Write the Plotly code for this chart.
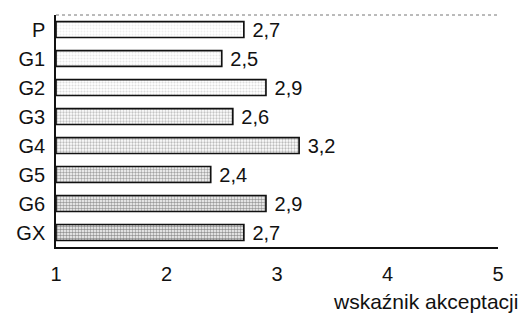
import plotly.graph_objects as go

categories = ["P", "G1", "G2", "G3", "G4", "G5", "G6", "GX"]
values = [2.7, 2.5, 2.9, 2.6, 3.2, 2.4, 2.9, 2.7]
value_labels = ["2,7", "2,5", "2,9", "2,6", "3,2", "2,4", "2,9", "2,7"]
x_ticks = [1, 2, 3, 4, 5]
x_title = "wskaźnik akceptacji"

bg_colors = ["#eeeeee", "#e6e6e6", "#dcdcdc", "#c4c4c4", "#bcbcbc", "#a4a4a4", "#9c9c9c", "#949494"]
fg_colors = ["#8c8c8c", "#7c7c7c", "#6e6e6e", "#585858", "#505050", "#404040", "#383838", "#303030"]
solidities = [0.3, 0.35, 0.4, 0.45, 0.45, 0.5, 0.55, 0.55]

FONT = "Liberation Sans, Arial, sans-serif"

fig = go.Figure()
fig.add_trace(go.Bar(
    y=categories,
    x=[v - 1 for v in values],
    base=1,
    orientation="h",
    text=value_labels,
    texttemplate=" %{text}",
    textposition="outside",
    constraintext="none",
    cliponaxis=False,
    textfont=dict(family=FONT, size=20, color="#111"),
    marker=dict(
        color=bg_colors,
        line=dict(color="#111", width=1.7),
        pattern=dict(shape=".", fgcolor=fg_colors, bgcolor=bg_colors,
                     size=3, solidity=solidities, fillmode="replace"),
    ),
    hoverinfo="skip",
))

fig.update_layout(
    width=526, height=325,
    margin=dict(l=56, r=28, t=15, b=78, autoexpand=False),
    paper_bgcolor="white", plot_bgcolor="white",
    bargap=0.45,
    showlegend=False,
    font=dict(family=FONT, size=20, color="#111"),
    xaxis=dict(
        range=[1, 5], tickvals=x_ticks, ticktext=[str(t) for t in x_ticks],
        showgrid=False, zeroline=False,
        showline=True, linecolor="#111", linewidth=1.5,
        ticks="", ticklabelstandoff=8,
        tickfont=dict(family=FONT, size=20, color="#111"),
    ),
    yaxis=dict(
        autorange="reversed",
        showgrid=False, zeroline=False,
        showline=True, linecolor="#111", linewidth=1.5,
        ticks="", ticklabelstandoff=5,
        tickfont=dict(family=FONT, size=20, color="#111"),
    ),
    shapes=[dict(type="line", xref="paper", yref="paper", x0=0, x1=1, y0=1, y1=1,
                 line=dict(color="#777", width=1, dash="dot"))],
    annotations=[dict(text=x_title, xref="paper", yref="paper", x=1.05, y=-0.175,
                      xanchor="right", yanchor="top", showarrow=False,
                      font=dict(family=FONT, size=21, color="#111"))],
)

fig.write_html("out.html", config={"displayModeBar": False},
               post_script="document.body.style.margin='0';document.body.style.overflow='hidden';")
